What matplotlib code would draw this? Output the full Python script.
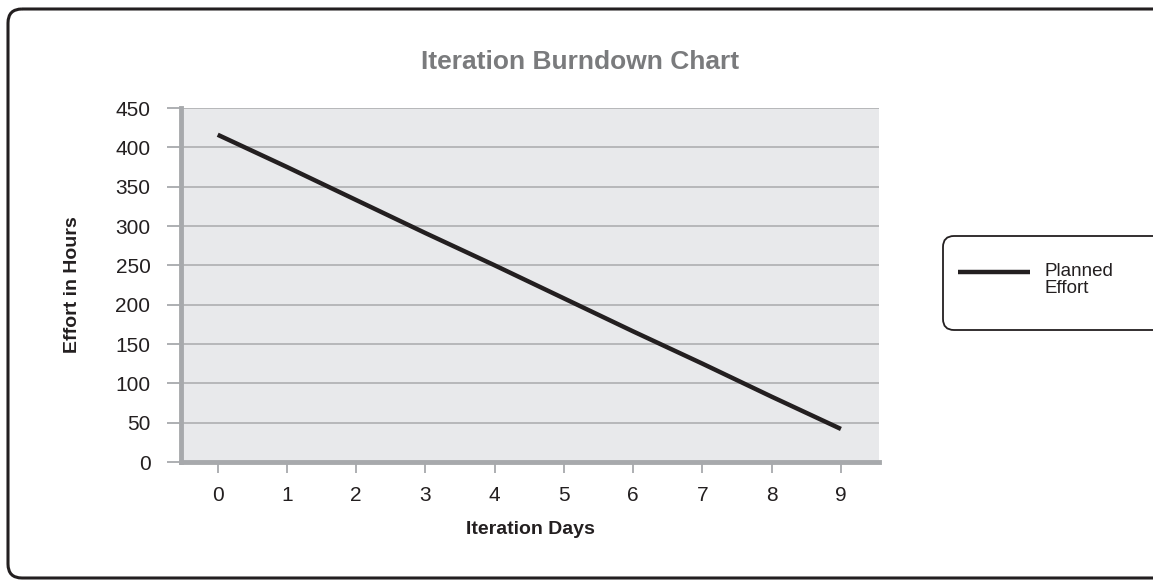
import matplotlib
matplotlib.use("Agg")
import matplotlib.pyplot as plt
from matplotlib.patches import FancyBboxPatch

# data
days = [0, 1, 2, 3, 4, 5, 6, 7, 8, 9]
planned_effort = [416, 375, 333, 291, 250, 208, 166, 125, 83, 42]
y_ticks = [0, 50, 100, 150, 200, 250, 300, 350, 400, 450]
series_label = "Planned\nEffort"

plt.rcParams['font.family'] = ['Liberation Sans', 'DejaVu Sans']

W, H = 1153, 580
fig = plt.figure(figsize=(W / 100, H / 100), dpi=100)
fig.patch.set_facecolor("white")

# background axes in pixel units for the rounded boxes and the legend
bg = fig.add_axes([0, 0, 1, 1], zorder=-1)
bg.set_xlim(0, W)
bg.set_ylim(H, 0)
bg.axis("off")
bg.add_patch(FancyBboxPatch((8, 9), 1200, 569,
                            boxstyle="round,pad=0,rounding_size=14",
                            facecolor="none", edgecolor="#231f20", linewidth=2.2))
bg.add_patch(FancyBboxPatch((943, 236), 260, 94,
                            boxstyle="round,pad=0,rounding_size=11",
                            facecolor="white", edgecolor="#231f20", linewidth=1.3))

ax = fig.add_axes([181 / W, 1 - 462 / H, (879 - 181) / W, (462 - 108) / H])
ax.set_facecolor("#e8e9eb")

line, = ax.plot(days, planned_effort, color="#231f20", linewidth=3.2,
                solid_capstyle="butt", zorder=3)

ax.set_xlim(-0.53, 9.55)
ax.set_ylim(0, 450)
ax.set_xticks(days)
ax.set_yticks(y_ticks)
ax.grid(axis="y", color="#b2b3b5", linewidth=1.3, zorder=1)
ax.set_axisbelow(True)

for s in ["top", "right"]:
    ax.spines[s].set_visible(False)
ax.spines["left"].set_color("#a7a9ac")
ax.spines["left"].set_linewidth(3.5)
ax.spines["bottom"].set_color("#a7a9ac")
ax.spines["bottom"].set_linewidth(3.5)

ax.tick_params(axis="y", length=10, width=1.3, color="#a7a9ac", pad=12,
               labelsize=15, labelcolor="#231f20")
ax.tick_params(axis="x", length=8, width=1.3, color="#a7a9ac", pad=9,
               labelsize=15, labelcolor="#231f20")

ax.set_xlabel("Iteration Days", fontsize=14, fontweight="bold",
              color="#231f20", labelpad=12)
ax.set_ylabel("Effort in Hours", fontsize=14, fontweight="bold",
              color="#231f20", labelpad=25)

fig.text(580 / W, 1 - 62 / H, "Iteration Burndown Chart", ha="center",
         va="center", fontsize=19, fontweight="bold", color="#7a7b7d")

# legend: handle sits level with the first text line
bg.plot([958, 1030], [272, 272], color=line.get_color(),
        linewidth=line.get_linewidth(), solid_capstyle="butt")
bg.text(1045, 263, series_label, ha="left", va="top", fontsize=13.5,
        linespacing=1.0, color="#231f20")

fig.savefig("out.png", dpi=100)
